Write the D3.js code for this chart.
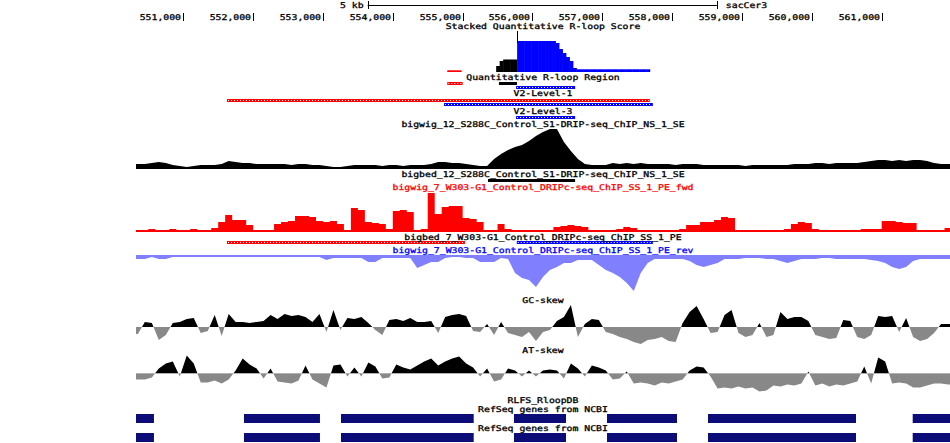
<!DOCTYPE html>
<html><head><meta charset="utf-8">
<script src="https://cdn.jsdelivr.net/npm/d3@7"></script>
<style>
body{margin:0;background:#fff;}
svg text{font-family:"DejaVu Sans Mono",monospace;font-size:7.9px;stroke-width:0.3px;}
</style></head><body>
<svg id="c" width="950" height="443"></svg>
<script>
// ---------------- DATA ----------------
const viewStart = 550323, viewEnd = 561978;
const rulerTicks = [551000,552000,553000,554000,555000,556000,557000,558000,559000,560000,561000];
const scaleBar = [553640, 558640];
const scaleBarLabel = "5 kb";
const assembly = "sacCer3";

// Stacked Quantitative R-loop Score (50 bp bins from stackStart)
const stackStart = 554780, stackBin = 50;
const stackRed   = [1.7,1.7,1.7,1.7,0,0,0,0,0,0, 0,0,0,0,0,0,0,0,0,0, 0,0,0,0,0,0,0,0,0,0,
  0,0,0,0,0,0,0,0,0,0, 0,0,0,0,0,0,0,0,0,0, 0,0,0,0,0,0,0,0];
const stackBlack = [0,0,0,0,0,0,0,0,0,0, 0,0,0,0,6,11,12.5,12.5,12.5,12.5, 0,0,0,0,0,0,0,0,0,0,
  0,0,0,0,0,0,0,0,0,0, 0,0,0,0,0,0,0,0,0,0, 0,0,0,0,0,0,0,0];
const stackBlue  = [0,0,0,0,0,0,0,0,0,0, 0,0,0,0,0,0,0,0,0,0, 31,31,31,31,31,31,31,31,31,31,
  31,29,23,19,15,11,4,2.7,2.7,2.7, 2.7,2.7,2.7,2.7,2.7,2.7,2.7,2.7,2.7,2.7, 2.7,2.7,2.7,2.7,2.7,2.7,2.7,2.7];
const markerPos = 555775;

// bed features: [start, end, strand]
const quantRegion = [[554780,555000,'+'],[555520,555778,'.'],[555765,556610,'-']];
const v2Level1 = [[551626,557680,'+'],[554733,557723,'-']];
const v2Level3 = [[555765,556610,'-']];
const bigbed12 = [[555363,556610,'.']];
const bigbed7 = [[551626,555033,'+'],[555775,557723,'-']];

// wiggle tracks: 100 bp bins from wigStart
const wigStart = 550300, wigBin = 100;
const bigwig12 = [5,5,6,7,6,4,3,2,3,4, 4,4,5,8,7,6,6,5,5,5, 5,5,4,5,5,4,4,3,2,2, 3,4,4,4,4,3,4,4,3,4,
  4,4,5,7,7,6,6,5,4,3, 3,10,15,19,22,24,28,33,37,40, 40,27,18,10,5,4,4,4,6,5, 6,5,6,5,5,5,5,4,5,5,
  5,4,4,4,4,4,4,3,4,4, 4,4,4,4,5,5,5,6,6,5, 6,6,6,6,7,8,9,9,8,9, 8,9,9,8,6,5,5];
const bigwig7fwd = [2,2,3,2,2,3,2,2,3,2, 2,4,10,17,12,12,7,2,2,2, 8,10,11,16,16,15,11,10,11,8,
  2,24,22,10,9,8,3,21,22,20, 2,3,39,18,25,26,26,14,13,10, 2,2,8,3,2,2,2,2,2,2, 5,6,7,6,5,2,2,2,2,3,
  5,4,2,2,2,2,2,2,3,7, 7,10,10,12,15,14,2,2,2,2, 2,2,2,3,8,10,9,3,2,2, 2,2,2,2,3,3,3,11,11,10, 9,9,2,2,2,2,4];
const bigwig7rev = [4,4,2,4,4,2,2,2,2,2, 2,2,2,2,2,2,2,2,2,2, 2,2,2,2,2,2,2,5,3,3, 3,3,3,7,7,3,3,3,3,3,
  13,10,7,7,3,2,2,3,3,7, 7,7,3,4,18,23,25,32,22,15, 12,8,8,5,5,5,10,15,18,22, 28,36,18,8,4,4,4,4,4,6,
  10,12,10,8,4,4,4,3,3,3, 4,4,6,8,6,4,4,4,3,3, 4,4,4,4,4,5,6,8,12,14, 12,6,4,4,4,4,4];
const gcSkew = [-0.07,0.05,0.04,-0.13,-0.08,0.04,0.05,0.08,0.09,-0.06,
  -0.04,0.12,-0.09,0.13,0.05,0.05,0.04,0.05,0.06,0.12,
  0.08,0.13,0.11,0.12,0.10,0.05,0.13,-0.05,0.17,-0.03,
  0.09,0.08,0.10,0.04,-0.03,-0.08,0.07,0.08,0.06,0.09,
  0.05,0.05,0.06,-0.06,0.10,0.12,0.13,0.11,-0.04,-0.05,
  0.03,-0.08,0.05,-0.06,-0.08,-0.10,-0.05,-0.14,-0.05,-0.03,
  0.06,0.10,0.22,-0.10,0.03,0.08,0.07,-0.05,-0.07,-0.10,
  -0.12,-0.15,-0.17,-0.13,-0.12,-0.10,-0.14,-0.15,0.04,0.15,
  0.21,0.08,-0.06,-0.05,0.12,0.17,-0.06,-0.10,-0.08,0.04,
  -0.10,-0.08,0.15,0.08,0.10,0.10,0.06,-0.08,-0.10,-0.12,
  -0.11,0.07,0.06,-0.10,-0.12,-0.08,0.11,0.10,0.11,-0.05,
  0.09,-0.10,-0.14,-0.12,-0.06,0.03,0.03];
const atSkew = [-0.06,-0.06,-0.04,0.05,0.10,0.12,-0.03,0.18,0.10,-0.09,
  -0.09,-0.07,-0.10,-0.06,0.03,0.15,0.09,0.05,-0.05,0.05,
  -0.08,-0.09,-0.10,-0.07,0.08,-0.06,-0.10,-0.14,0.08,0.09,
  -0.03,0.06,-0.03,0.11,0.07,-0.05,-0.04,0.09,0.06,0.04,
  0.08,0.12,0.15,0.08,0.12,0.15,0.17,0.10,0.06,-0.03,
  0.05,-0.08,-0.06,0.05,0.03,-0.03,0.03,-0.03,0.03,0.04,
  0.03,-0.05,0.10,0.05,-0.03,0.08,0.06,0.03,-0.06,-0.05,
  0.02,-0.10,-0.09,-0.10,-0.12,-0.09,-0.10,-0.08,-0.06,0.03,
  0.07,0.06,-0.03,-0.15,-0.14,-0.15,-0.13,-0.15,-0.14,-0.18,
  -0.17,-0.12,-0.13,-0.11,-0.12,-0.10,0.02,-0.12,-0.10,-0.13,
  -0.11,-0.12,-0.10,-0.08,0.07,-0.10,0.16,0.12,-0.10,-0.09,
  -0.10,-0.14,-0.14,-0.12,-0.10,-0.10,-0.11];

// RefSeq genes
const geneStarts = [550000,551869,553258,555735,557067,558513,561444];
const geneEnds   = [550580,552957,555158,556480,558069,560632,562500];

const trackTitles = {
  stacked: "Stacked Quantitative R-loop Score",
  quant: "Quantitative R-loop Region",
  v1: "V2-Level-1",
  v3: "V2-Level-3",
  bw12: "bigwig_12_S288C_Control_S1-DRIP-seq_ChIP_NS_1_SE",
  bb12: "bigbed_12_S288C_Control_S1-DRIP-seq_ChIP_NS_1_SE",
  fwd: "bigwig_7_W303-G1_Control_DRIPc-seq_ChIP_SS_1_PE_fwd",
  bb7: "bigbed_7_W303-G1_Control_DRIPc-seq_ChIP_SS_1_PE",
  rev: "bigwig_7_W303-G1_Control_DRIPc-seq_ChIP_SS_1_PE_rev",
  gc: "GC-skew",
  at: "AT-skew",
  rlfs: "RLFS_RloopDB",
  refseq: "RefSeq genes from NCBI"
};

// ---------------- DRAW ----------------
const L = 136, R = 950, W = R - L, MID = (L + R) / 2;
const CW = 5.9; // character cell width of the browser font
const svg = d3.select('#c');
const defs = svg.append('defs');
defs.append('clipPath').attr('id','clip').append('rect').attr('x',L).attr('y',0).attr('width',W).attr('height',443);
const x = d3.scaleLinear().domain([viewStart, viewEnd]).range([L, R]);
const g = svg.append('g').attr('clip-path','url(#clip)');
const RED = '#ff0000', BLUE = '#0000ff', NAVY = '#0c0c78', LBLUE = '#8080ff', GRAY = '#888888';

function label(txt, xx, yc, anchor, color) {
  const c = color || '#000';
  return svg.append('text').attr('x', xx).attr('y', yc + 2.9).attr('text-anchor', anchor)
    .attr('fill', c).attr('stroke', c).attr('textLength', txt.length * CW)
    .attr('lengthAdjust', 'spacingAndGlyphs').text(txt);
}
function title(txt, yc, color) { label(txt, MID, yc, 'middle', color); }

// ruler
svg.append('line').attr('x1', x(scaleBar[0])).attr('x2', x(scaleBar[1])).attr('y1',5.5).attr('y2',5.5).attr('stroke','#000');
scaleBar.forEach(p => svg.append('line').attr('x1', Math.round(x(p))+0.5).attr('x2', Math.round(x(p))+0.5)
  .attr('y1',1).attr('y2',9).attr('stroke','#000'));
label(scaleBarLabel, x(scaleBar[0]) - 4, 5.2, 'end');
label(assembly, x(scaleBar[1]) + 9, 5.2, 'start');
const fmt = d3.format(',');
rulerTicks.forEach(t => {
  const xt = Math.round(x(t)) + 0.5;
  svg.append('line').attr('x1', xt).attr('x2', xt).attr('y1', 13).attr('y2', 21).attr('stroke','#000');
  label(fmt(t), xt - 2.5, 17, 'end');
});

// stacked track
title(trackTitles.stacked, 26.4);
{
  const base = 72, H = 31;
  const ys = d3.scaleLinear().domain([0, 31]).range([base, base - H]);
  const rows = stackRed.map((_, i) => ({ i, red: stackRed[i], black: stackBlack[i], blue: stackBlue[i] }));
  const series = d3.stack().keys(['red','black','blue'])(rows);
  const colors = { red: RED, black: '#000', blue: BLUE };
  series.forEach(s => {
    s.forEach(d => {
      if (d[1] - d[0] <= 0) return;
      const i = d.data.i;
      const x0 = x(stackStart + i * stackBin), x1 = x(stackStart + (i + 1) * stackBin);
      g.append('rect').attr('x', x0).attr('width', x1 - x0 + 0.4)
        .attr('y', ys(d[1])).attr('height', ys(d[0]) - ys(d[1])).attr('fill', colors[s.key]);
    });
  });
  const xm = Math.round(x(markerPos)) + 0.5;
  g.append('line').attr('x1', xm).attr('x2', xm).attr('y1', 31).attr('y2', 43).attr('stroke', '#000');
}

// bed tracks
function packRows(items) {
  const ends = [];
  return items.map(it => {
    let r = ends.findIndex(e => e < it[0]);
    if (r < 0) { r = ends.length; ends.push(it[1]); } else ends[r] = it[1];
    return r;
  });
}
function bedTrack(items, top) {
  const rows = packRows(items);
  items.forEach((it, k) => {
    const y0 = top + rows[k] * 4;
    const x0 = x(it[0]), x1 = x(it[1]);
    const col = it[2] === '+' ? RED : it[2] === '-' ? BLUE : '#000';
    g.append('rect').attr('x', x0).attr('y', y0).attr('width', x1 - x0).attr('height', 3).attr('fill', col);
    if (it[2] !== '.') {
      g.append('line').attr('x1', x0 + 1).attr('x2', x1 - 1).attr('y1', y0 + 1.5).attr('y2', y0 + 1.5)
        .attr('stroke', '#fff').attr('stroke-width', 1).attr('stroke-dasharray', '1,2');
    }
  });
}
title(trackTitles.quant, 76.7);
bedTrack(quantRegion, 82);
title(trackTitles.v1, 93.3);
bedTrack(v2Level1, 99);
title(trackTitles.v3, 111);
bedTrack(v2Level3, 116);

// wiggle helpers
function linPts(vals) {
  const pts = vals.map((v, i) => ({ p: wigStart + (i + 0.5) * wigBin, v }));
  pts.unshift({ p: wigStart, v: vals[0] });
  pts.push({ p: wigStart + vals.length * wigBin, v: vals[vals.length - 1] });
  return pts;
}
function stepPts(vals) {
  const pts = vals.map((v, i) => ({ p: wigStart + i * wigBin, v }));
  pts.push({ p: wigStart + vals.length * wigBin, v: vals[vals.length - 1] });
  return pts;
}
function wig(vals, base, H, max, color, down, step) {
  const ys = d3.scaleLinear().domain([0, max]).range(down ? [base, base + H] : [base, base - H]);
  const area = d3.area().x(d => x(d.p)).y0(base).y1(d => ys(d.v)).curve(step ? d3.curveStepAfter : d3.curveLinear);
  g.append('path').attr('d', area(step ? stepPts(vals) : linPts(vals))).attr('fill', color);
}

title(trackTitles.bw12, 124);
wig(bigwig12, 169, 40, 40, '#000', false, false);
title(trackTitles.bb12, 174);
bedTrack(bigbed12, 179);
title(trackTitles.fwd, 186.7, RED);
wig(bigwig7fwd, 232, 40, 40, RED, false, true);
title(trackTitles.bb7, 236.7);
bedTrack(bigbed7, 241);
title(trackTitles.rev, 250, BLUE);
wig(bigwig7rev, 255, 40, 40, LBLUE, true, false);

// skew tracks
function skew(vals, base, id) {
  const ys = d3.scaleLinear().domain([-0.25, 0.25]).range([base + 25, base - 25]);
  defs.append('clipPath').attr('id', id + 'p').append('rect').attr('x', L).attr('y', 0).attr('width', W).attr('height', base);
  defs.append('clipPath').attr('id', id + 'n').append('rect').attr('x', L).attr('y', base).attr('width', W).attr('height', 443 - base);
  const area = d3.area().x(d => x(d.p)).y0(base).y1(d => ys(d.v));
  const d = area(linPts(vals));
  g.append('path').attr('d', d).attr('fill', '#000').attr('clip-path', `url(#${id}p)`);
  g.append('path').attr('d', d).attr('fill', GRAY).attr('clip-path', `url(#${id}n)`);
}
title(trackTitles.gc, 300);
skew(gcSkew, 327, 'gc');
title(trackTitles.at, 350);
skew(atSkew, 373.5, 'at');

// RLFS + RefSeq
title(trackTitles.rlfs, 399.8);
title(trackTitles.refseq, 409.5);
title(trackTitles.refseq, 428);
[414, 433].forEach(top => {
  geneStarts.forEach((s, k) => {
    g.append('rect').attr('x', x(s)).attr('y', top).attr('width', x(geneEnds[k]) - x(s)).attr('height', 9).attr('fill', NAVY);
  });
});
</script>
</body></html>
